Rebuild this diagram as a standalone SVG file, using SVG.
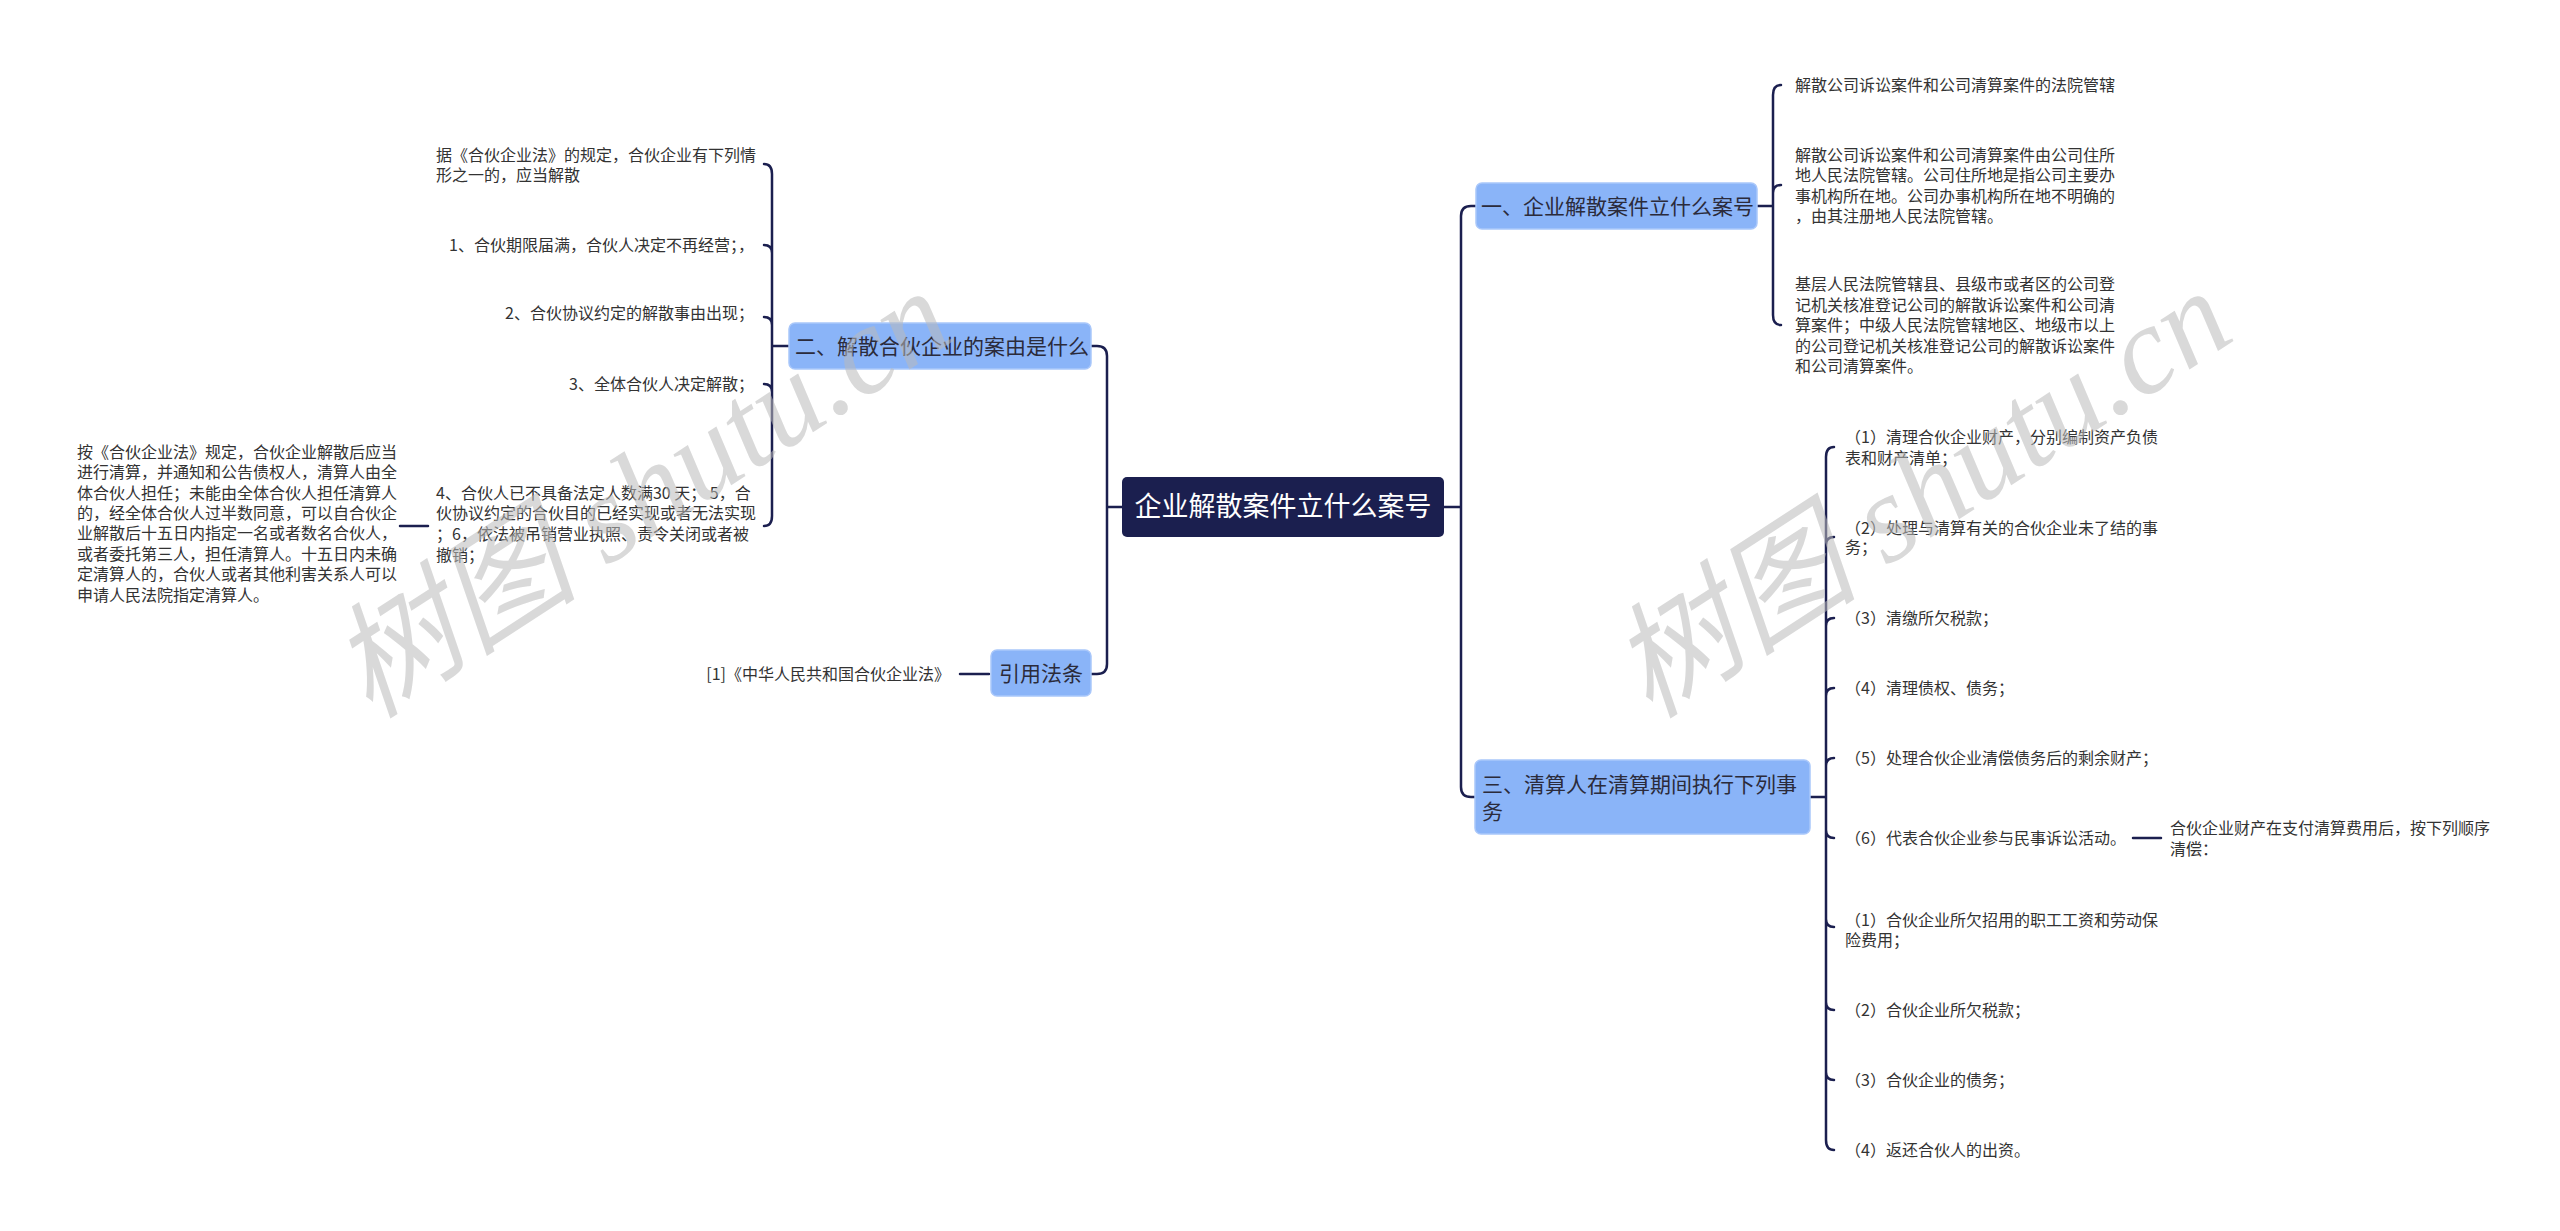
<svg xmlns="http://www.w3.org/2000/svg" width="2560" height="1231" viewBox="0 0 2560 1231">
<style>
text{font-family:"Noto Sans CJK SC","Noto Sans",sans-serif;}
.leaf{font-size:16px;fill:#333;}
.br{font-size:21px;fill:#2b2b3b;}
.bbox{fill:#8ab4f8;stroke:#a9c7fa;stroke-width:1.5;}
.c{fill:none;stroke:#1b1f4f;stroke-width:2.5;stroke-linecap:round;}
.wm{font-size:125px;fill:#bbb;opacity:0.55;font-family:"Liberation Serif","Noto Sans CJK SC",serif;font-style:italic;}
</style>
<rect width="2560" height="1231" fill="#fff"/>
<g id="connectors">
<path class="c" d="M1122 507 H1107 M1107 507 V356 Q1107 346 1097 346 H1091 M1107 507 V664 Q1107 674 1097 674 H1091"/>
<path class="c" d="M1444 507 H1461 M1461 507 V216 Q1461 206 1471 206 H1476 M1461 507 V787 Q1461 797 1471 797 H1475"/>
<path class="c" d="M789 346 H772 M772 174 Q772 164 764 164 M772 174 V516 Q772 526 764 526 M772 253 Q772 245 764 245 M772 325 Q772 317 764 317 M772 392 Q772 384 764 384"/>
<path class="c" d="M400 526 H428"/>
<path class="c" d="M960 674 H989"/>
<path class="c" d="M1757 206 H1773 M1773 95 Q1773 85 1781 85 M1773 95 V315 Q1773 325 1781 325 M1773 193 Q1773 185 1781 185"/>
<path class="c" d="M1810 797 H1826 M1826 457 Q1826 447 1834 447 M1826 457 V1140 Q1826 1150 1834 1150 M1826 545 Q1826 537 1834 537 M1826 626 Q1826 618 1834 618 M1826 696 Q1826 688 1834 688 M1826 766 Q1826 758 1834 758 M1826 830 Q1826 838 1834 838 M1826 919 Q1826 927 1834 927 M1826 1002 Q1826 1010 1834 1010 M1826 1072 Q1826 1080 1834 1080"/>
<path class="c" d="M2133 838 H2161"/>
</g>
<g id="root">
<rect x="1122" y="477" width="322" height="60" rx="5" fill="#1b1f4f"/>
<text x="1283" y="516" font-size="27" fill="#fff" text-anchor="middle">企业解散案件立什么案号</text>
</g>
<g id="b1">
<rect class="bbox" x="1476" y="183" width="281" height="46" rx="6"/>
<text class="br" x="1481" y="214">一、企业解散案件立什么案号</text>
</g>
<g id="b1-l1"><text class="leaf" x="1795" y="91">解散公司诉讼案件和公司清算案件的法院管辖</text></g>
<g id="b1-l2"><text class="leaf" x="1795" y="161">解散公司诉讼案件和公司清算案件由公司住所</text><text class="leaf" x="1795" y="181">地人民法院管辖。公司住所地是指公司主要办</text><text class="leaf" x="1795" y="202">事机构所在地。公司办事机构所在地不明确的</text><text class="leaf" x="1795" y="222">，由其注册地人民法院管辖。</text></g>
<g id="b1-l3"><text class="leaf" x="1795" y="290">基层人民法院管辖县、县级市或者区的公司登</text><text class="leaf" x="1795" y="311">记机关核准登记公司的解散诉讼案件和公司清</text><text class="leaf" x="1795" y="331">算案件；中级人民法院管辖地区、地级市以上</text><text class="leaf" x="1795" y="352">的公司登记机关核准登记公司的解散诉讼案件</text><text class="leaf" x="1795" y="372">和公司清算案件。</text></g>
<g id="b2">
<rect class="bbox" x="789" y="323" width="302" height="46" rx="6"/>
<text class="br" x="795" y="354">二、解散合伙企业的案由是什么</text>
</g>
<g id="b2-l0"><text class="leaf" x="436" y="161">据《合伙企业法》的规定，合伙企业有下列情</text><text class="leaf" x="436" y="181">形之一的，应当解散</text></g>
<g id="b2-l1"><text class="leaf" x="754" y="251" text-anchor="end">1、合伙期限届满，合伙人决定不再经营；，</text></g>
<g id="b2-l2"><text class="leaf" x="754" y="319" text-anchor="end">2、合伙协议约定的解散事由出现；</text></g>
<g id="b2-l3"><text class="leaf" x="754" y="390" text-anchor="end">3、全体合伙人决定解散；</text></g>
<g id="b2-l4"><text class="leaf" x="436" y="499">4、合伙人已不具备法定人数满30 天； 5，合</text><text class="leaf" x="436" y="519">伙协议约定的合伙目的已经实现或者无法实现</text><text class="leaf" x="436" y="540">；6，依法被吊销营业执照、责令关闭或者被</text><text class="leaf" x="436" y="561">撤销；</text></g>
<g id="b2-l4-c"><text class="leaf" x="77" y="458">按《合伙企业法》规定，合伙企业解散后应当</text><text class="leaf" x="77" y="478">进行清算，并通知和公告债权人，清算人由全</text><text class="leaf" x="77" y="499">体合伙人担任；未能由全体合伙人担任清算人</text><text class="leaf" x="77" y="519">的，经全体合伙人过半数同意，可以自合伙企</text><text class="leaf" x="77" y="539">业解散后十五日内指定一名或者数名合伙人，</text><text class="leaf" x="77" y="560">或者委托第三人，担任清算人。十五日内未确</text><text class="leaf" x="77" y="580">定清算人的，合伙人或者其他利害关系人可以</text><text class="leaf" x="77" y="601">申请人民法院指定清算人。</text></g>
<g id="ref">
<rect class="bbox" x="991" y="650" width="100" height="46" rx="6"/>
<text class="br" x="1041" y="681" text-anchor="middle">引用法条</text>
</g>
<g id="ref-l"><text class="leaf" x="950" y="680" text-anchor="end">[1]《中华人民共和国合伙企业法》</text></g>
<g id="b3">
<rect class="bbox" x="1475" y="760" width="335" height="74" rx="6"/>
<text class="br" x="1482" y="792">三、清算人在清算期间执行下列事</text>
<text class="br" x="1482" y="819">务</text>
</g>
<g id="b3-l1"><text class="leaf" x="1845" y="443">（1）清理合伙企业财产，分别编制资产负债</text><text class="leaf" x="1845" y="464">表和财产清单；</text></g>
<g id="b3-l2"><text class="leaf" x="1845" y="534">（2）处理与清算有关的合伙企业未了结的事</text><text class="leaf" x="1845" y="553">务；</text></g>
<g id="b3-l3"><text class="leaf" x="1845" y="624">（3）清缴所欠税款；</text></g>
<g id="b3-l4"><text class="leaf" x="1845" y="694">（4）清理债权、债务；</text></g>
<g id="b3-l5"><text class="leaf" x="1845" y="764">（5）处理合伙企业清偿债务后的剩余财产；</text></g>
<g id="b3-l6"><text class="leaf" x="1845" y="844">（6）代表合伙企业参与民事诉讼活动。</text></g>
<g id="b3-l6-c"><text class="leaf" x="2170" y="834">合伙企业财产在支付清算费用后，按下列顺序</text><text class="leaf" x="2170" y="855">清偿：</text></g>
<g id="b3-l7"><text class="leaf" x="1845" y="926">（1）合伙企业所欠招用的职工工资和劳动保</text><text class="leaf" x="1845" y="946">险费用；</text></g>
<g id="b3-l8"><text class="leaf" x="1845" y="1016">（2）合伙企业所欠税款；</text></g>
<g id="b3-l9"><text class="leaf" x="1845" y="1086">（3）合伙企业的债务；</text></g>
<g id="b3-l10"><text class="leaf" x="1845" y="1156">（4）返还合伙人的出资。</text></g>
<g id="watermark">
<text class="wm" transform="translate(370,720) rotate(-33)">树图 shutu.cn</text>
<text class="wm" transform="translate(1650,720) rotate(-33)">树图 shutu.cn</text>
</g>
</svg>
